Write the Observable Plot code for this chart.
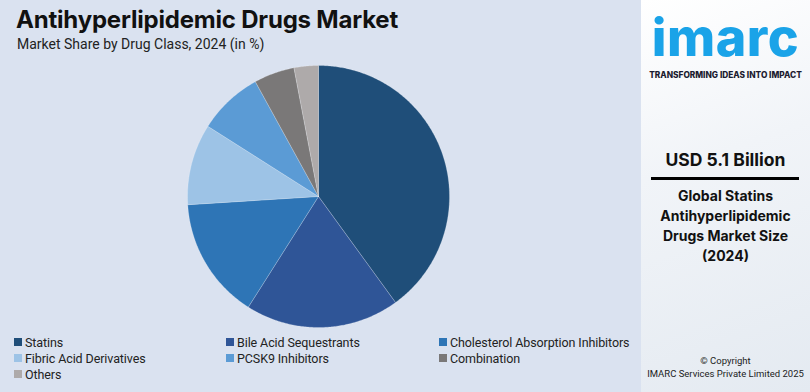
<!DOCTYPE html>
<html><head><meta charset="utf-8">
<script src="https://cdn.jsdelivr.net/npm/d3@7"></script>
<script src="https://cdn.jsdelivr.net/npm/@observablehq/plot@0.6"></script>
<style>
html,body{margin:0;padding:0;}
body{width:810px;height:392px;overflow:hidden;font-family:Inter,"Noto Sans",sans-serif;}
#wrap{position:relative;width:810px;height:392px;background:#dae2f0;}
#left{position:absolute;left:0;top:0;width:641px;height:392px;}
#chart{position:absolute;left:0;top:0;}
#title{position:absolute;left:16px;top:5px;font-size:24px;font-weight:700;color:#111;letter-spacing:-0.2px;}
#subtitle{position:absolute;left:17px;top:36px;font-size:14px;color:#222;font-family:Roboto,sans-serif;}
#legend{position:absolute;left:0;top:334px;font-family:Roboto,sans-serif;font-size:12.5px;color:#222;letter-spacing:-0.1px;}
.li{position:absolute;white-space:nowrap;display:flex;align-items:center;height:16px;}
.sw{width:8px;height:8px;margin-right:3px;}
#right{position:absolute;left:641px;top:0;width:169px;height:392px;background:linear-gradient(160deg,#ffffff 0%,#f1f4f8 40%,#e4eaf1 100%);}
.rt{position:absolute;left:0;width:169px;text-align:center;color:#111;}
</style></head>
<body>
<div id="wrap">
  <div id="left">
    <div id="chart"></div>
    <div id="title">Antihyperlipidemic Drugs Market</div>
    <div id="subtitle">Market Share by Drug Class, 2024 (in %)</div>
    <div id="legend"></div>
  </div>
  <div id="right">
    <div class="rt" style="top:16px;font-size:52px;font-weight:800;color:#1aa3e8;letter-spacing:0.5px;line-height:44px;">imarc</div>
    <div class="rt" style="top:70px;font-size:8.3px;font-weight:800;color:#1b1b2f;letter-spacing:0px;line-height:10px;">TRANSFORMING IDEAS INTO IMPACT</div>
    <div class="rt" style="top:149px;font-size:17.5px;font-weight:700;">USD 5.1 Billion</div>
    <div style="position:absolute;left:10px;top:177px;width:148px;height:3px;background:#000;"></div>
    <div class="rt" style="top:186px;font-size:14px;font-weight:700;line-height:20px;">Global Statins<br>Antihyperlipidemic<br>Drugs Market Size<br>(2024)</div>
    <div class="rt" style="top:354px;font-size:9.5px;line-height:13px;color:#222;font-family:Roboto,sans-serif;">© Copyright<br>IMARC Services Private Limited 2025</div>
  </div>
</div>
<script>
const categories = ["Statins","Bile Acid Sequestrants","Cholesterol Absorption Inhibitors","Fibric Acid Derivatives","PCSK9 Inhibitors","Combination","Others"];
const shares = [40,19,15,10,8,5,3];
const colors = ["#1f4e79","#2f5597","#2e75b6","#9dc3e6","#5b9bd5","#7a7878","#aeaaaa"];

const W = 641, H = 392, R = 131, CX = 318, CY = 196;
const data = categories.map((c,i)=>({name:c, value:shares[i]}));
const arcs = d3.pie().sort(null).value(d=>d.value)(data);
const pts = [];
arcs.forEach(a=>{
  const n = Math.max(2, Math.ceil((a.endAngle-a.startAngle)/0.01));
  pts.push({name:a.data.name, x:0, y:0});
  for(let k=0;k<=n;k++){
    const t = a.startAngle + (a.endAngle-a.startAngle)*k/n;
    pts.push({name:a.data.name, x:Math.sin(t), y:Math.cos(t)});
  }
  pts.push({name:a.data.name, x:0, y:0});
});
const chart = Plot.plot({
  width: W, height: H, margin: 0,
  style: {background: "transparent"},
  x: {domain: [-CX/R, (W-CX)/R], axis: null},
  y: {domain: [-(H-CY)/R, CY/R], axis: null},
  color: {domain: categories, range: colors},
  marks: [
    Plot.line(pts, {x:"x", y:"y", z:"name", fill:"name", stroke:"#ffffff", strokeOpacity:0.35, strokeWidth:0.6, curve:"linear"})
  ]
});
document.getElementById("chart").appendChild(chart);

const leg = document.getElementById("legend");
const colX = [14, 226, 439];
categories.forEach((c,i)=>{
  const d = document.createElement("div");
  d.className = "li";
  d.style.left = colX[i%3]+"px";
  d.style.top = (Math.floor(i/3)*16)+"px";
  d.innerHTML = `<span class="sw" style="background:${colors[i]}"></span><span>${c}</span>`;
  leg.appendChild(d);
});
</script>
</body></html>
